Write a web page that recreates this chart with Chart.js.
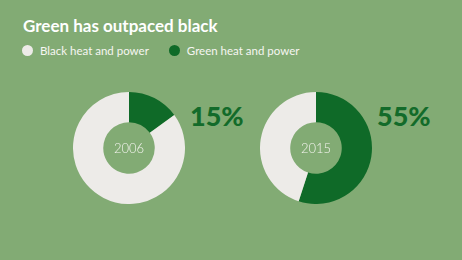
<!DOCTYPE html>
<html>
<head>
<meta charset="utf-8">
<script src="https://cdn.jsdelivr.net/npm/chart.js@4.4.0/dist/chart.umd.min.js"></script>
<style>
  html, body { margin: 0; padding: 0; }
  body { width: 462px; height: 260px; background: #82ab74; position: relative; overflow: hidden; font-family: Lato, "Open Sans", sans-serif; }
  #title { position: absolute; left: 23px; top: 15px; color: #fff; font-weight: 700; font-size: 17px; }
  #legend { position: absolute; left: 22px; top: 44px; color: #f6f6f2; font-size: 11.5px; font-weight: 400; }
  .item { display: inline-block; margin-right: 20px; }
  .dot { display: inline-block; width: 11px; height: 11px; border-radius: 50%; vertical-align: -1px; margin-right: 7px; }
  .box { position: absolute; width: 112px; height: 112px; top: 92px; }
  .pct { position: absolute; top: 99px; color: #136b2a; font-weight: 900; font-size: 27px; }
</style>
</head>
<body>
<div id="title"></div>
<div id="legend"></div>
<div class="box" style="left:73px"><canvas id="chart2006"></canvas></div>
<div class="box" style="left:260px"><canvas id="chart2015"></canvas></div>
<div class="pct" id="pct0" style="left:190px"></div>
<div class="pct" id="pct1" style="left:377px"></div>
<script>
const titleText = 'Green has outpaced black';
const seriesNames = ['Black heat and power', 'Green heat and power'];
const seriesColors = ['#edebe8', '#0f6a28'];
const years = ['2006', '2015'];
const greenShare = [15, 55];
const blackShare = [85, 45];

document.getElementById('title').textContent = titleText;
var legendHtml = '';
for (var i = 0; i < seriesNames.length; i++) {
  legendHtml += '<span class="item"><span class="dot" style="background:' + seriesColors[i] + '"></span>' + seriesNames[i] + '</span>';
}
document.getElementById('legend').innerHTML = legendHtml;

// year label in the hole
const centerText = {
  id: 'centerText',
  afterDraw: function (chart) {
    const ctx = chart.ctx;
    const arc = chart.getDatasetMeta(0).data[0];
    ctx.save();
    ctx.fillStyle = '#f4f4ef';
    ctx.font = '300 13px Lato';
    ctx.textAlign = 'center';
    ctx.textBaseline = 'middle';
    ctx.fillText(chart.options.plugins.centerText.label, arc.x, arc.y + 1);
    ctx.restore();
  }
};

function CreateDonut(canvasId, idx) {
  const Config = {
    type: 'doughnut',
    plugins: [centerText],
    data: {
      labels: [seriesNames[1], seriesNames[0]],
      datasets: [{
        data: [greenShare[idx], blackShare[idx]],
        backgroundColor: [seriesColors[1], seriesColors[0]],
        borderWidth: 0
      }]
    },
    options: {
      responsive: true,
      maintainAspectRatio: false,
      animation: false,
      cutout: '46%',
      layout: { padding: 0 },
      plugins: {
        legend: { display: false },
        tooltip: { enabled: false },
        centerText: { label: years[idx] }
      }
    }
  };
  new Chart(document.getElementById(canvasId), Config);
  document.getElementById('pct' + idx).textContent = greenShare[idx] + '%';
}

CreateDonut('chart2006', 0);
CreateDonut('chart2015', 1);
</script>
</body>
</html>
